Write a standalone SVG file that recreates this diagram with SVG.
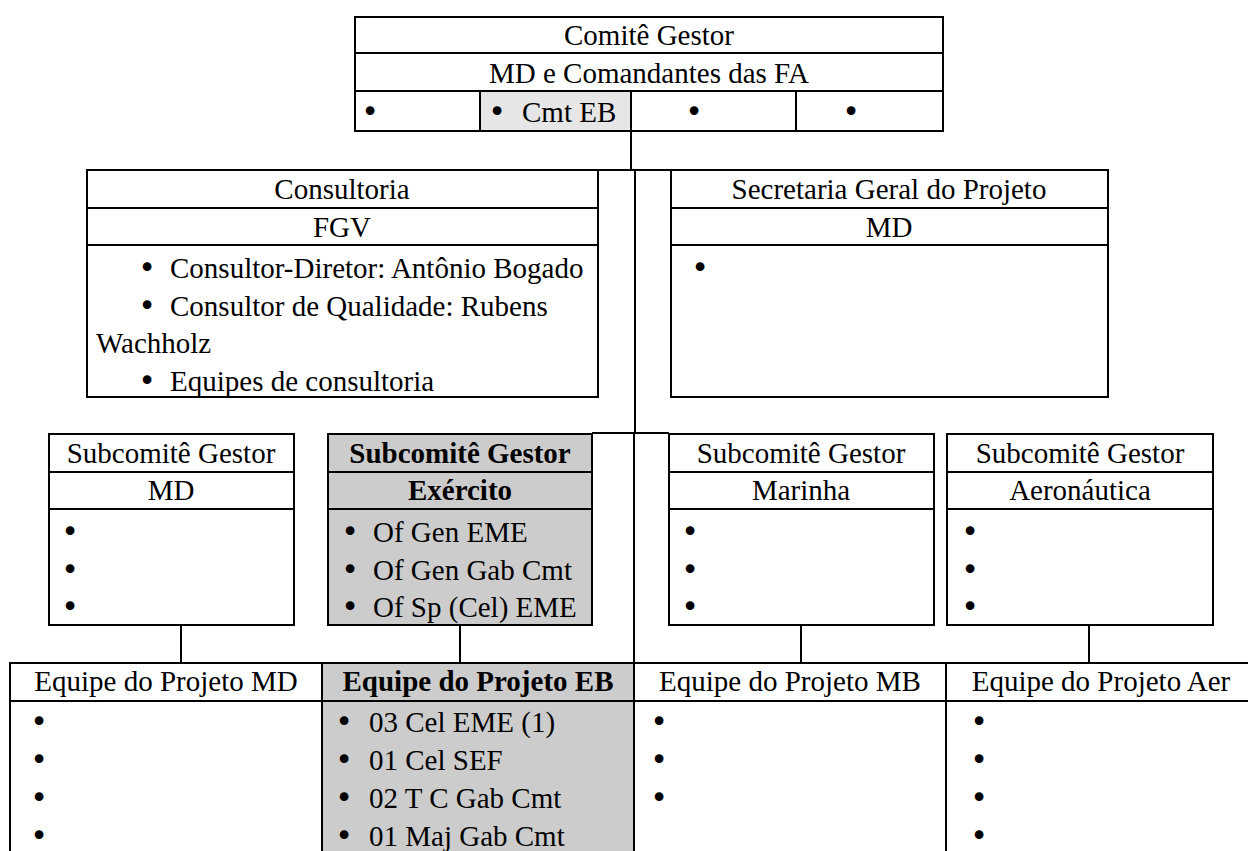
<svg xmlns="http://www.w3.org/2000/svg" width="1248" height="851" viewBox="0 0 1248 851">
<style>
text{font-family:"Liberation Serif","Times New Roman",serif;font-size:29px;fill:#000}
.c{text-anchor:middle}
.b{font-weight:bold}
.bu{font-family:"DejaVu Sans",sans-serif;font-size:30px;text-anchor:middle}
.box{fill:#fff;stroke:#000;stroke-width:2}
.g{fill:#cccccc}
.lg{fill:#e6e6e6}
.ln{stroke:#000;stroke-width:2;fill:none}
</style>
<rect width="1248" height="851" fill="#fff"/>
<g id="connectors">
<path class="ln" d="M631,131V170M598,170H671M635,170V433M592,433H669M634,433V663M181,625V663M460,625V663M801,625V663M1089,625V663"/>
</g>
<g id="comite">
<rect class="box" x="355" y="17" width="588" height="114"/>
<rect class="lg" x="481" y="92" width="150" height="38"/>
<path class="ln" d="M355,53H943M355,91H943M480,91V131M631,91V131M796,91V131"/>
<text class="c" x="649" y="45">Comitê Gestor</text>
<text class="c" x="649" y="83">MD e Comandantes das FA</text>
<text class="bu" x="370" y="122">•</text>
<text class="bu" x="497" y="122">•</text>
<text x="522" y="122">Cmt EB</text>
<text class="bu" x="694" y="122">•</text>
<text class="bu" x="851" y="122">•</text>
</g>
<g id="consultoria">
<rect class="box" x="87" y="170" width="511" height="227"/>
<path class="ln" d="M87,208H598M87,245H598"/>
<text class="c" x="342" y="199">Consultoria</text>
<text class="c" x="342" y="237">FGV</text>
<text class="bu" x="147" y="278">•</text>
<text x="170" y="278">Consultor-Diretor: Antônio Bogado</text>
<text class="bu" x="147" y="316">•</text>
<text x="170" y="316">Consultor de Qualidade: Rubens</text>
<text x="96" y="353">Wachholz</text>
<text class="bu" x="147" y="391">•</text>
<text x="170" y="391">Equipes de consultoria</text>
</g>
<g id="secretaria">
<rect class="box" x="671" y="170" width="437" height="227"/>
<path class="ln" d="M671,208H1108M671,245H1108"/>
<text class="c" x="889" y="199">Secretaria Geral do Projeto</text>
<text class="c" x="889" y="237">MD</text>
<text class="bu" x="700" y="278">•</text>
</g>
<g id="sub-md">
<rect class="box" x="49" y="434" width="245" height="191"/>
<path class="ln" d="M49,472H294M49,509H294"/>
<text class="c" x="171" y="463">Subcomitê Gestor</text>
<text class="c" x="171" y="500">MD</text>
<text class="bu" x="70" y="542">•</text>
<text class="bu" x="70" y="580">•</text>
<text class="bu" x="70" y="617">•</text>
</g>
<g id="sub-ex">
<rect class="box g" x="328" y="434" width="264" height="191"/>
<path class="ln" d="M328,472H592M328,509H592"/>
<text class="c b" x="460" y="463">Subcomitê Gestor</text>
<text class="c b" x="460" y="500">Exército</text>
<text class="bu" x="350" y="542">•</text>
<text x="373" y="542">Of Gen EME</text>
<text class="bu" x="350" y="580">•</text>
<text x="373" y="580">Of Gen Gab Cmt</text>
<text class="bu" x="350" y="617">•</text>
<text x="373" y="617">Of Sp (Cel) EME</text>
</g>
<g id="sub-mb">
<rect class="box" x="669" y="434" width="265" height="191"/>
<path class="ln" d="M669,472H934M669,509H934"/>
<text class="c" x="801" y="463">Subcomitê Gestor</text>
<text class="c" x="801" y="500">Marinha</text>
<text class="bu" x="690" y="542">•</text>
<text class="bu" x="690" y="580">•</text>
<text class="bu" x="690" y="617">•</text>
</g>
<g id="sub-aer">
<rect class="box" x="947" y="434" width="266" height="191"/>
<path class="ln" d="M947,472H1213M947,509H1213"/>
<text class="c" x="1080" y="463">Subcomitê Gestor</text>
<text class="c" x="1080" y="500">Aeronáutica</text>
<text class="bu" x="970" y="542">•</text>
<text class="bu" x="970" y="580">•</text>
<text class="bu" x="970" y="617">•</text>
</g>
<g id="equipe-md">
<rect class="box" x="10" y="663" width="312" height="200"/>
<path class="ln" d="M10,701H322"/>
<text class="c" x="166" y="691">Equipe do Projeto MD</text>
<text class="bu" x="39" y="732">•</text>
<text class="bu" x="39" y="770">•</text>
<text class="bu" x="39" y="808">•</text>
<text class="bu" x="39" y="846">•</text>
</g>
<g id="equipe-eb">
<rect class="box g" x="322" y="663" width="312" height="200"/>
<path class="ln" d="M322,701H634"/>
<text class="c b" x="478" y="691">Equipe do Projeto EB</text>
<text class="bu" x="344" y="732">•</text>
<text x="369" y="732">03 Cel EME (1)</text>
<text class="bu" x="344" y="770">•</text>
<text x="369" y="770">01 Cel SEF</text>
<text class="bu" x="344" y="808">•</text>
<text x="369" y="808">02 T C Gab Cmt</text>
<text class="bu" x="344" y="846">•</text>
<text x="369" y="846">01 Maj Gab Cmt</text>
</g>
<g id="equipe-mb">
<rect class="box" x="634" y="663" width="312" height="200"/>
<path class="ln" d="M634,701H946"/>
<text class="c" x="790" y="691">Equipe do Projeto MB</text>
<text class="bu" x="659" y="732">•</text>
<text class="bu" x="659" y="770">•</text>
<text class="bu" x="659" y="808">•</text>
</g>
<g id="equipe-aer">
<rect class="box" x="946" y="663" width="312" height="200"/>
<path class="ln" d="M946,701H1258"/>
<text class="c" x="1101" y="691">Equipe do Projeto Aer</text>
<text class="bu" x="979" y="732">•</text>
<text class="bu" x="979" y="770">•</text>
<text class="bu" x="979" y="808">•</text>
<text class="bu" x="979" y="846">•</text>
</g>
</svg>
